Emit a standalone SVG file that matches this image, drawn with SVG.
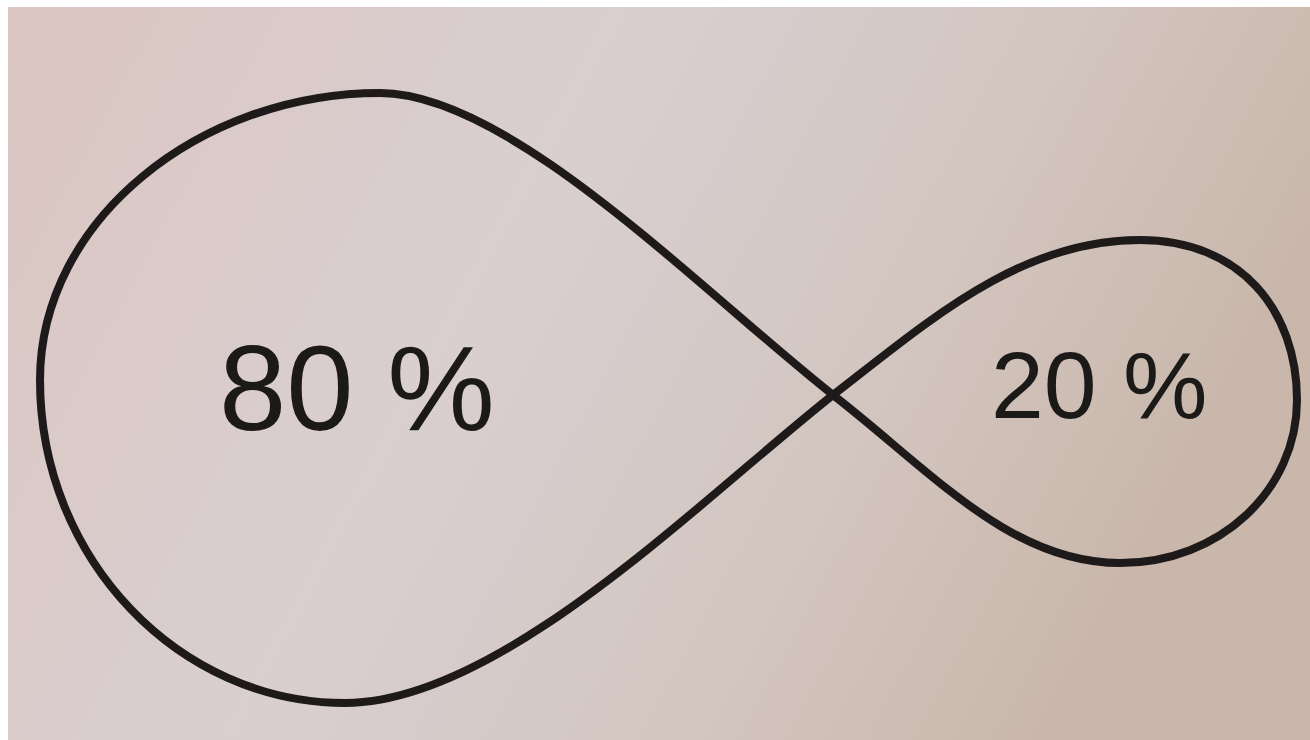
<svg xmlns="http://www.w3.org/2000/svg" width="1310" height="740" viewBox="0 0 1310 740">
  <defs>
    <linearGradient id="bg" x1="0" y1="0" x2="1" y2="0.3">
      <stop offset="0" stop-color="#dbc6c1"/>
      <stop offset="0.45" stop-color="#d9cfd1"/>
      <stop offset="0.75" stop-color="#d3c6c0"/>
      <stop offset="1" stop-color="#c9b7ab"/>
    </linearGradient>
    <style>
      .lbl { font-family: "Liberation Sans", Arial, sans-serif; fill: #1c1919; }
      .loop { fill: none; stroke: #1e1a1a; stroke-width: 8; stroke-linejoin: round; }
    </style>
  </defs>
  <rect x="0" y="0" width="1310" height="740" fill="#ffffff"/>
  <rect x="8" y="7" width="1302" height="733" fill="url(#bg)"/>
  <g id="connectors">
    <path id="infinity" class="loop" d="M833,395 C700,290 510,93 380,93 C200,93 40,220 40,380 C40,560 180,703 345,703 C500,703 700,500 833,395 C930,320 1020,240 1140,240 C1240,240 1297,310 1297,400 C1297,490 1220,563 1120,563 C1010,563 930,470 833,395 Z"/>
  </g>
  <g id="node-80">
    <text class="lbl" x="219" y="430" font-size="121">80 %</text>
  </g>
  <g id="node-20">
    <text class="lbl" x="991" y="418" font-size="95">20 %</text>
  </g>
</svg>
